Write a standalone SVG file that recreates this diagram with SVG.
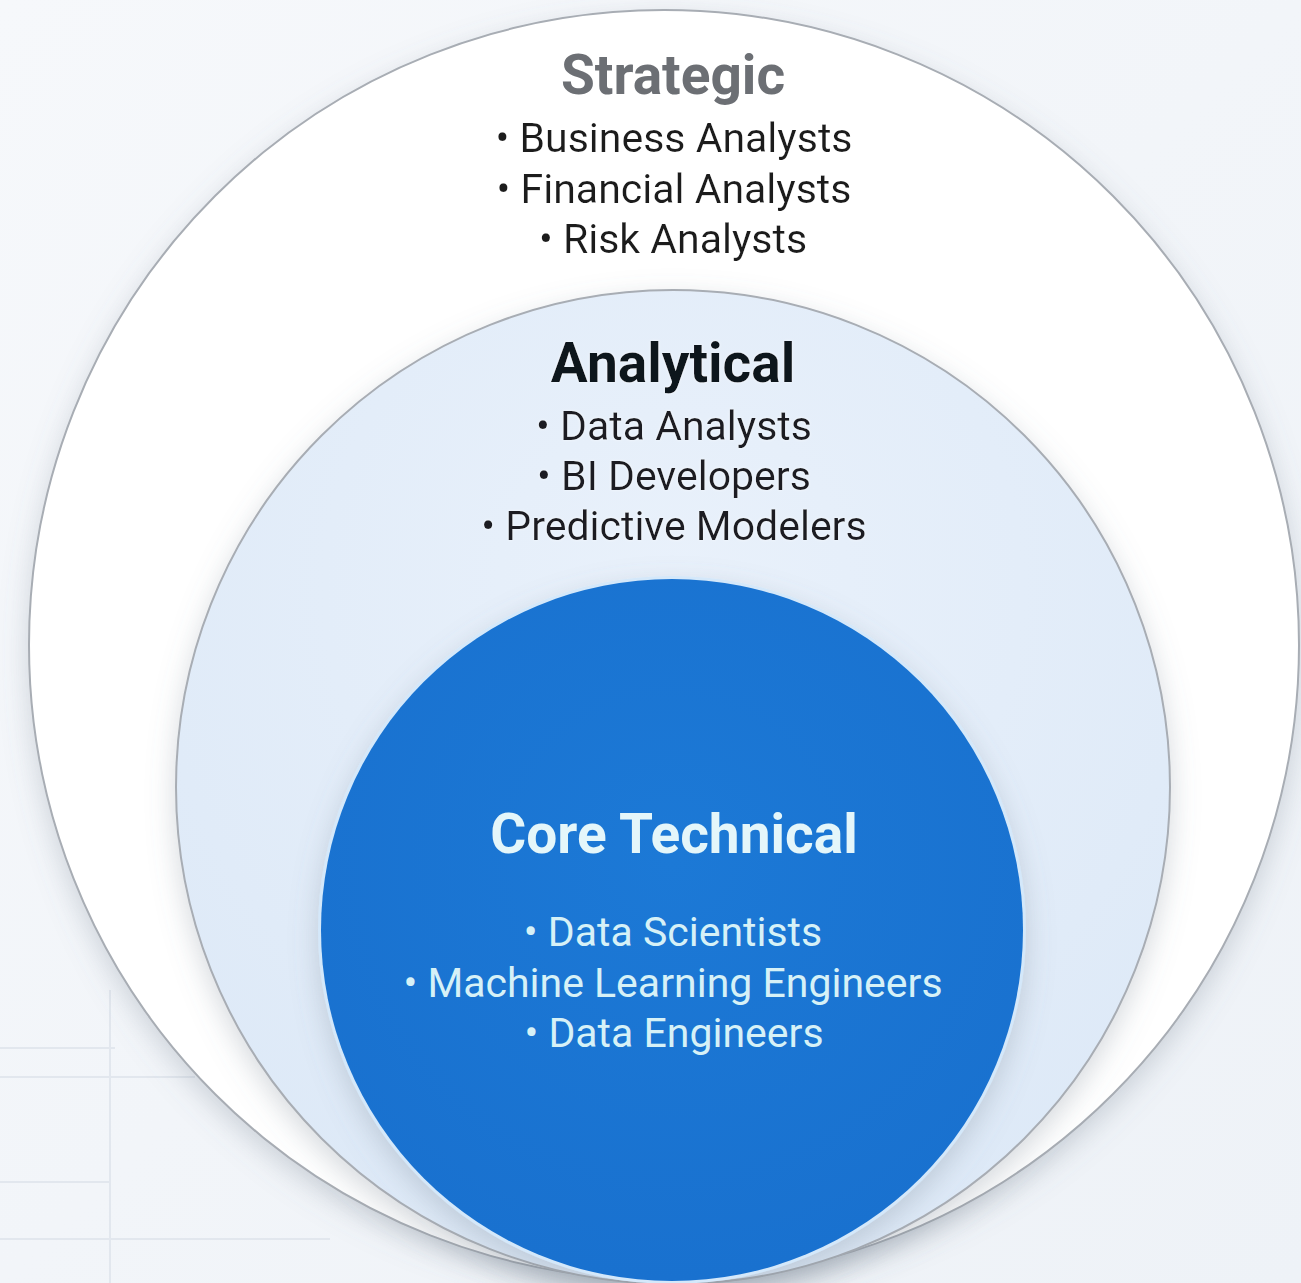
<svg xmlns="http://www.w3.org/2000/svg" width="1301" height="1283" viewBox="0 0 1301 1283">
  <defs>
    <linearGradient id="bg" x1="0" y1="0" x2="1" y2="1">
      <stop offset="0" stop-color="#f6f8fb"/>
      <stop offset="1" stop-color="#eef2f7"/>
    </linearGradient>
    <radialGradient id="midFill" cx="0.5" cy="0.3" r="0.7">
      <stop offset="0" stop-color="#e9f1fb"/>
      <stop offset="1" stop-color="#dde9f7"/>
    </radialGradient>
    <radialGradient id="coreFill" cx="0.5" cy="0.4" r="0.6">
      <stop offset="0" stop-color="#1c79d6"/>
      <stop offset="1" stop-color="#1971cf"/>
    </radialGradient>
    <filter id="shadow" x="-20%" y="-20%" width="140%" height="140%">
      <feDropShadow dx="0" dy="10" stdDeviation="14" flood-color="#6b7787" flood-opacity="0.28"/>
    </filter>
    <filter id="glow" x="-20%" y="-20%" width="140%" height="140%">
      <feGaussianBlur in="SourceAlpha" stdDeviation="1.5" result="b"/>
      <feFlood flood-color="#ffffff" flood-opacity="0.6"/>
      <feComposite in2="b" operator="in" result="g"/>
      <feMerge><feMergeNode in="g"/><feMergeNode in="SourceGraphic"/></feMerge>
    </filter>
  </defs>
  <style>
    .ring { stroke: #a8adb4; stroke-width: 2; }
    .title { font-family: Roboto, "Liberation Sans", Arial, sans-serif; font-weight: 700; font-size: 55px; text-anchor: middle; }
    .item { font-family: Roboto, "Liberation Sans", Arial, sans-serif; font-weight: 400; font-size: 41px; text-anchor: middle; }
    .grid { stroke: #e2e7ee; stroke-width: 2; fill: none; }
  </style>

  <rect x="0" y="0" width="1301" height="1283" fill="url(#bg)"/>

  <g id="background-grid">
    <line class="grid" x1="110" y1="990" x2="110" y2="1283"/>
    <line class="grid" x1="0" y1="1048" x2="115" y2="1048"/>
    <line class="grid" x1="0" y1="1077" x2="195" y2="1077"/>
    <line class="grid" x1="0" y1="1182" x2="110" y2="1182"/>
    <line class="grid" x1="0" y1="1239" x2="330" y2="1239"/>
  </g>

  <g id="strategic">
    <circle class="ring" cx="664" cy="645" r="635" fill="#ffffff" filter="url(#shadow)"/>
    <text class="title" x="673" y="94" fill="#6c6f74">Strategic</text>
    <g fill="#1e1e1e" filter="url(#glow)">
      <text class="item" x="674" y="152">• Business Analysts</text>
      <text class="item" x="674" y="203">• Financial Analysts</text>
      <text class="item" x="673" y="253">• Risk Analysts</text>
    </g>
  </g>

  <g id="analytical">
    <circle class="ring" cx="673" cy="787" r="497" fill="url(#midFill)" filter="url(#shadow)"/>
    <text class="title" x="673" y="382" fill="#10131d" filter="url(#glow)">Analytical</text>
    <g fill="#1b1d22" filter="url(#glow)">
      <text class="item" x="674" y="440">• Data Analysts</text>
      <text class="item" x="674" y="490">• BI Developers</text>
      <text class="item" x="674" y="540">• Predictive Modelers</text>
    </g>
  </g>

  <g id="core-technical">
    <circle cx="672" cy="930" r="354" fill="#d4e8fa" filter="url(#shadow)"/>
    <circle cx="672" cy="930" r="351" fill="url(#coreFill)"/>
    <text class="title" x="674" y="853" fill="#e4f6fa">Core Technical</text>
    <g fill="#d6f1f7">
      <text class="item" x="673" y="946">• Data Scientists</text>
      <text class="item" x="673" y="997">• Machine Learning Engineers</text>
      <text class="item" x="674" y="1047">• Data Engineers</text>
    </g>
  </g>

  <g id="connectors"/>
</svg>
